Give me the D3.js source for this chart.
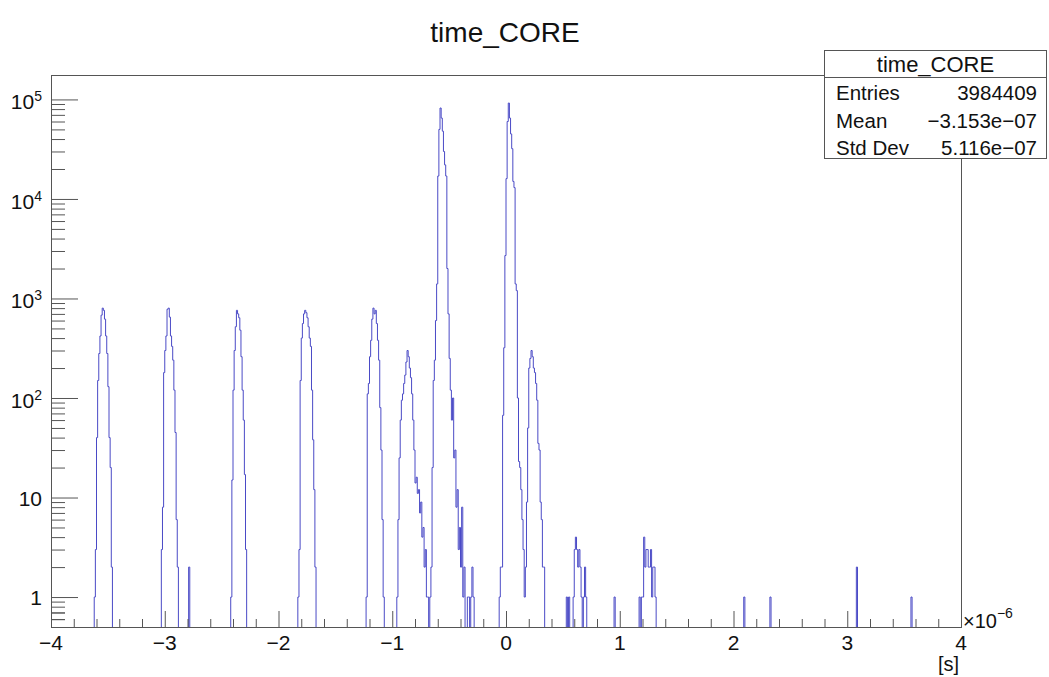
<!DOCTYPE html>
<html><head><meta charset="utf-8">
<script src="https://cdn.jsdelivr.net/npm/d3@7"></script>
<style>
body{margin:0;background:#fff;}
text{font-family:"Liberation Sans",Arial,Helvetica,sans-serif;fill:#111;}
</style></head>
<body><div id="chart"></div>
<script>
/* time_CORE — ROOT-style log-y histogram of hit times, 0.01 us bins, drawn as a step outline */
var xMin=-4, xMax=4, binWidth=0.01, yMin=0.5, yMax=1.76e5;

// bin contents, each run starts at the low edge listed in segStarts (units 1e-6 s)
var sat1=[1,3,40,150,280,420,680,800,760,620,420,280,130,40,20,2];
var sat2=[3,8,180,300,420,780,800,650,420,330,240,120,45,6,2];
var sat3=[1,15,120,300,520,760,700,640,480,260,120,60,17,3];
var sat4=[1,3,150,400,560,700,760,720,640,520,400,330,120,38,12,2];
var sat5=[1,110,140,260,380,620,800,700,760,560,380,240,80,30,6,1];
var central=[1,6,25,60,95,110,140,170,230,300,260,200,160,110,60,30,14,16,11,12,7,9,4,5,2,3,1,1,0,1,
    2,20,150,240,600,1400,17000,50000,82000,65000,48000,30000,22000,17000,2000,700,250,120,60,100,
    25,30,8,12,3,5,2,8,1,2,0,0,1,1,0,1,2,1];
var prompt=[1,2,2,67,320,2700,16000,60000,92000,65000,45000,32000,15000,13000,1400,1200,100,23,20,12,
    6,3,1,2,9,50,200,250,300,260,200,180,140,95,35,30,9,6,2,2];
var tail1=[1,0,1,0,0,0,1,3,4,3,2,3,2,1,0,1,2,1];
var tail2=[1,0,1,1,4,2,3,3,2,2,3,1,2,2,1];
var segStarts=[-3.62,-3.03,-2.42,-1.83,-1.23,-0.96,-0.06,0.53,1.17];
var segCounts=[sat1,sat2,sat3,sat4,sat5,central,prompt,tail1,tail2];
var singles=[[-2.79,2],[0.95,1],[2.09,1],[2.32,1],[3.08,2],[3.56,1]];

var xTickValues=[-4,-3,-2,-1,0,1,2,3,4];
var xTickLabels=["\u22124","\u22123","\u22122","\u22121","0","1","2","3","4"];
var yTickValues=[1,10,100,1000,10000,100000];
var yTickLabels=["1","10","10^2","10^3","10^4","10^5"];
var statsTitle="time_CORE";
var statsRows=[["Entries","3984409"],["Mean","\u22123.153e\u221207"],["Std Dev","5.116e\u221207"]];

var nBins=Math.round((xMax-xMin)/binWidth);
var counts=new Array(nBins).fill(0);
segStarts.forEach(function(s,k){
    var i0=Math.round((s-xMin)/binWidth);
    segCounts[k].forEach(function(c,j){counts[i0+j]+=c;});
});
singles.forEach(function(p){counts[Math.round((p[0]-xMin)/binWidth)]+=p[1];});

var W=1049,H=677, L=51,R=961,T=75,B=627, axisCol="#555";
var svg=d3.select("#chart").append("svg").attr("width",W).attr("height",H);
var x=d3.scaleLinear().domain([xMin,xMax]).range([L,R]);
var y=d3.scaleLog().domain([yMin,yMax]).range([B,T]);

svg.append("clipPath").attr("id","frameClip").append("rect")
    .attr("x",L).attr("y",T).attr("width",R-L).attr("height",B-T);

/* histogram outline */
function yv(c){return c>0?y(c):B+2;}
var d="M"+x(xMin)+","+(B+2);
counts.forEach(function(c,i){d+="V"+yv(c).toFixed(2)+"H"+x(xMin+(i+1)*binWidth).toFixed(2);});
d+="V"+(B+2);
svg.append("path").attr("d",d).attr("fill","none").attr("stroke","#4a4ac6").attr("stroke-width",1)
    .attr("clip-path","url(#frameClip)");

/* axes: ROOT draws ticks inward */
var xMinor=d3.range(xMin,xMax+1e-9,0.2).filter(function(v){return Math.abs(v-Math.round(v))>1e-6;});
var yMinor=[];
for(var e=-1;e<=5;e++){for(var k=2;k<=9;k++){var v=k*Math.pow(10,e);if(v>yMin&&v<yMax)yMinor.push(v);}}
[0.6,0.7,0.8,0.9].forEach(function(v){if(yMinor.indexOf(v)<0)yMinor.push(v);});

function styleAxis(g){g.select(".domain").remove();g.selectAll(".tick line").attr("stroke",axisCol);}
svg.append("g").attr("transform","translate(0,"+B+")")
    .call(d3.axisBottom(x).tickValues(xTickValues).tickSize(-16).tickFormat("")).call(styleAxis);
svg.append("g").attr("transform","translate(0,"+B+")")
    .call(d3.axisBottom(x).tickValues(xMinor).tickSize(-8).tickFormat("")).call(styleAxis);
svg.append("g").attr("transform","translate("+L+",0)")
    .call(d3.axisLeft(y).tickValues(yTickValues).tickSize(-27).tickFormat("")).call(styleAxis);
svg.append("g").attr("transform","translate("+L+",0)")
    .call(d3.axisLeft(y).tickValues(yMinor).tickSize(-14).tickFormat("")).call(styleAxis);

svg.append("rect").attr("x",L+0.5).attr("y",T+0.5).attr("width",R-L).attr("height",B-T)
    .attr("fill","none").attr("stroke",axisCol);

svg.selectAll("text.xlab").data(xTickValues).enter().append("text").attr("class","xlab")
    .attr("x",function(v){return x(v);}).attr("y",650).attr("text-anchor","middle")
    .style("font-size","21px").text(function(v,i){return xTickLabels[i];});

svg.selectAll("text.ylab").data(yTickValues).enter().append("text").attr("class","ylab")
    .attr("x",42).attr("y",function(v,i){return y(v)+(yTickLabels[i].indexOf("^")>0?10:8);})
    .attr("text-anchor","end").style("font-size","21px")
    .each(function(v,i){
        var parts=yTickLabels[i].split("^"), t=d3.select(this);
        t.append("tspan").text(parts[0]);
        if(parts[1])t.append("tspan").attr("dy",-8).style("font-size","14px").text(parts[1]);
    });

var ex=svg.append("text").attr("x",963).attr("y",628).style("font-size","20px");
ex.append("tspan").text("\u00d710");
ex.append("tspan").attr("dy",-10).style("font-size","14px").text("\u22126");
svg.append("text").attr("x",959).attr("y",671).attr("text-anchor","end").style("font-size","20px").text("[s]");

svg.append("text").attr("x",505).attr("y",42).attr("text-anchor","middle").style("font-size","28px").text("time_CORE");

/* stats box */
var bx=824.5, by=50.5, bw=222, bh=108;
var sb=svg.append("g");
sb.append("rect").attr("x",bx).attr("y",by).attr("width",bw).attr("height",bh).attr("fill","#fff").attr("stroke",axisCol);
sb.append("line").attr("x1",bx).attr("x2",bx+bw).attr("y1",77.5).attr("y2",77.5).attr("stroke",axisCol);
sb.append("text").attr("x",bx+bw/2).attr("y",72).attr("text-anchor","middle").style("font-size","22px").text(statsTitle);
statsRows.forEach(function(r,i){
    var yy=100+i*27.5;
    sb.append("text").attr("x",836).attr("y",yy).style("font-size","20.5px").text(r[0]);
    sb.append("text").attr("x",1037).attr("y",yy).attr("text-anchor","end").style("font-size","20.5px").text(r[1]);
});
</script></body></html>
